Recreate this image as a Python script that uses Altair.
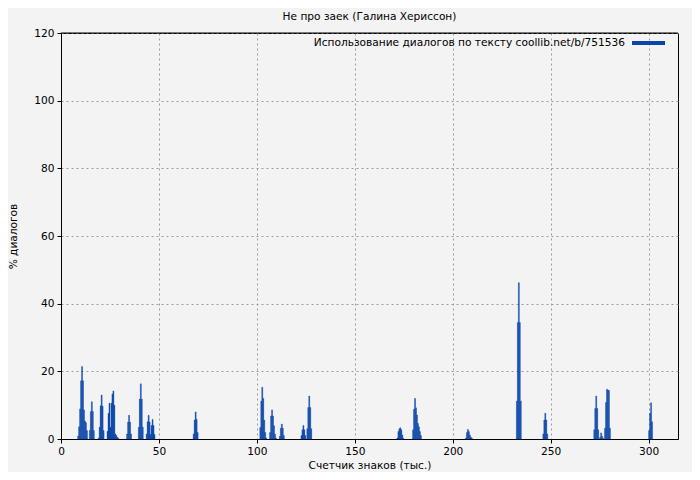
import altair as alt
import pandas as pd

# bin starts (thousand chars, 0.5 wide) and dialog share (%)
bin_start = [
    8.5, 9, 9.5, 10, 10.5, 11, 11.5, 12, 12.5, 13,
    14.5, 15, 15.5, 16, 16.5,
    19, 19.5, 20, 20.5, 21, 21.5,
    23.5, 24, 24.5, 25, 25.5, 26, 26.5, 27, 27.5, 28, 28.5, 29,
    33.5, 34, 34.5, 35, 35.5,
    39.5, 40, 40.5, 41, 41.5,
    43.5, 44, 44.5, 45, 45.5, 46, 46.5, 47, 47.5,
    67.5, 68, 68.5, 69, 69.5,
    101.5, 102, 102.5, 103, 103.5, 104, 104.5,
    106.5, 107, 107.5, 108, 108.5, 109, 109.5,
    111.5, 112, 112.5, 113, 113.5,
    122.5, 123, 123.5, 124, 124.5, 125.5, 126, 126.5, 127, 127.5,
    171.5, 172, 172.5, 173, 173.5, 174, 174.5,
    179.5, 180, 180.5, 181, 181.5, 182, 182.5, 183, 183.5,
    206.5, 207, 207.5, 208, 208.5, 209, 209.5,
    232.5, 233, 233.5, 234, 234.5,
    246, 246.5, 247, 247.5, 248,
    272, 272.5, 273, 273.5, 274, 275, 275.5, 276, 276.5,
    277.5, 278, 278.5, 279, 279.5, 280,
    300, 300.5, 301, 301.5,
]
pct = [
    0.9, 3.6, 8.9, 17.2, 21.4, 17.2, 8.6, 5.3, 4.8, 2.5,
    2.5, 8.1, 11.0, 8.1, 2.5,
    0.3, 3.5, 9.8, 13.0, 9.7, 2.5,
    2.3, 7.6, 10.6, 3.5, 10.6, 13.3, 14.2, 10.0, 1.5, 1.0, 0.5, 0.2,
    1.5, 5.0, 7.0, 5.0, 1.5,
    3.5, 11.8, 16.3, 11.8, 3.5,
    1.5, 5.1, 7.0, 5.0, 1.3, 4.0, 5.8, 4.0, 1.3,
    1.5, 5.6, 8.0, 5.8, 1.9,
    3.4, 11.2, 15.3, 12.0, 5.6, 1.9, 0.3,
    1.9, 6.8, 8.6, 6.8, 3.9, 1.5, 0.3,
    0.8, 3.2, 4.4, 3.2, 1.0,
    1.0, 2.7, 4.0, 2.7, 1.0, 3.0, 9.3, 12.7, 9.3, 3.0,
    0.3, 2.2, 3.0, 3.3, 2.7, 1.2, 0.2,
    2.7, 8.8, 12.0, 9.2, 7.1, 4.6, 3.6, 2.2, 1.0,
    0.3, 1.9, 2.8, 2.2, 1.2, 0.5, 0.2,
    11.2, 34.4, 46.2, 34.4, 11.2,
    1.5, 5.6, 7.6, 5.6, 1.5,
    2.7, 9.0, 12.7, 9.0, 2.7, 0.5, 1.8, 0.8, 0.2,
    3.2, 10.8, 14.7, 14.5, 14.3, 3.2,
    2.5, 7.6, 10.7, 5.1,
]
bin_width = 0.5

title_text = "Не про заек (Галина Хериссон)"
legend_text = "Использование диалогов по тексту coollib.net/b/751536"
x_title = "Счетчик знаков (тыс.)"
y_title = "% диалогов"

df = pd.DataFrame({"x": bin_start, "y": pct})
df["x2"] = df["x"] + bin_width

BLUE = "#0a46aa"
FONT = "DejaVu Sans"
FS = 10.6

W, H = 617, 406

xscale = alt.Scale(domain=[0, 315], nice=False, zero=False)
yscale = alt.Scale(domain=[0, 120], nice=False)

bars = alt.Chart(df).mark_rect(color=BLUE, stroke=BLUE, strokeWidth=0.4).encode(
    x=alt.X("x:Q", scale=xscale,
            axis=alt.Axis(title=x_title, values=[0, 50, 100, 150, 200, 250, 300],
                          grid=True, tickSize=4, labelPadding=3, titlePadding=4,
                          labelFlush=False)),
    x2="x2:Q",
    y=alt.Y("y:Q", scale=yscale,
            axis=alt.Axis(title=y_title, values=[0, 20, 40, 60, 80, 100, 120],
                          grid=True, tickSize=4, labelPadding=3, labelFlush=False,
                          titleX=-43, titleY=H / 2)),
    y2=alt.datum(0),
)

leg_df = pd.DataFrame({"t": [legend_text]})

leg_text = alt.Chart(leg_df).mark_text(
    align="right", baseline="middle", font=FONT, fontSize=FS, color="black"
).encode(x=alt.value(564), y=alt.value(10), text="t:N")

leg_line = alt.Chart(leg_df).mark_rule(
    color=BLUE, strokeWidth=4
).encode(x=alt.value(571), x2=alt.value(604), y=alt.value(10))

# solid top frame line drawn over the topmost grid line
top_frame = alt.Chart(leg_df).mark_rule(color="black", strokeWidth=1).encode(
    x=alt.value(0), x2=alt.value(W), y=alt.value(0)
)

chart = alt.layer(bars, leg_text, leg_line, top_frame).properties(
    width=W, height=H,
    title=alt.TitleParams(title_text, font=FONT, fontSize=FS, fontWeight="normal",
                          color="black", offset=5, anchor="middle"),
    background="#f3f3f3",
    autosize=alt.AutoSizeParams(type="none"),
    padding={"left": 53, "top": 25, "right": 14, "bottom": 33},
).configure_view(
    stroke="black", strokeWidth=1, fill="#f3f3f3"
).configure_axis(
    labelFont=FONT, labelFontSize=FS, labelColor="black",
    titleFont=FONT, titleFontSize=FS, titleFontWeight="normal", titleColor="black",
    domainColor="black", tickColor="black",
    gridColor="#9a9a9a", gridDash=[2, 3], gridWidth=1, gridOpacity=1,
)

chart.save("out.html", embed_options={"renderer": "svg", "actions": False})
